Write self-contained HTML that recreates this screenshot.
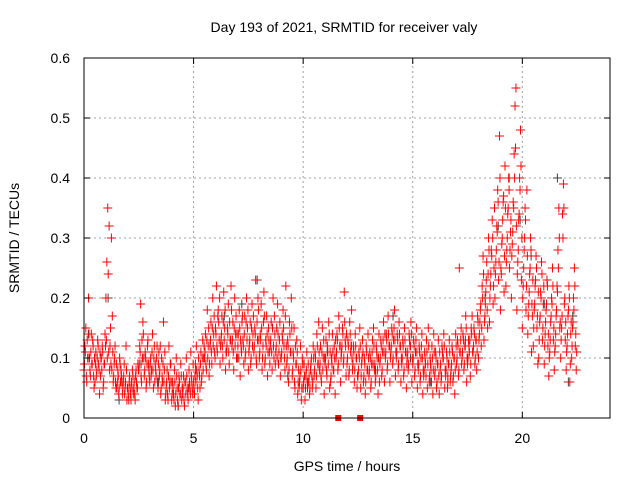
<!DOCTYPE html>
<html><head><meta charset="utf-8"><style>
html,body{margin:0;padding:0;background:#fff}
svg{display:block;font-family:"Liberation Sans",sans-serif}
</style></head><body>
<svg id="chart" width="640" height="480" viewBox="0 0 640 480">
<rect x="0" y="0" width="640" height="480" fill="#fff"/>
<g id="grid"></g>
<g id="gray"></g>
<g id="red"></g>
<rect x="84" y="58" width="526" height="360" fill="none" stroke="#000" stroke-width="1"/>
<g id="ticks"></g>
<text x="344" y="32" font-size="14" text-anchor="middle" fill="#000">Day 193 of 2021, SRMTID for receiver valy</text>
<text x="347" y="471" font-size="14" text-anchor="middle" fill="#000">GPS time / hours</text>
<text x="0" y="0" font-size="14" text-anchor="middle" fill="#000" transform="translate(19,238) rotate(-90)">SRMTID / TECUs</text>
</svg>
<script>
const xTicks=[0,5,10,15,20];
const yTicks=[0,0.1,0.2,0.3,0.4,0.5,0.6];
const yTickLabels=["0","0.1","0.2","0.3","0.4","0.5","0.6"];
const binStart=0, binStep=0.25;
const redVals=[
[8,12,15,6,10,20],[10,7,14,9,12,5],[6,11,8,13,9,4],[7,10,12,5,9,14],[20,26,35,11,8,15],
[30,17,6,9,12,5],[5,8,4,10,6,7],[4,6,9,5,12,3],[5,3,7,4,6,8],[4,6,3,8,5,9],
[8,12,19,6,10,14],[7,11,5,9,13,8],[6,10,8,14,5,12],[9,7,12,5,11,8],[4,10,6,16,8,3],
[5,8,3,12,6,9],[3,6,4,8,2,10],[5,2,7,4,9,3],[4,7,2,6,10,5],[3,8,5,11,6,4],
[6,4,9,12,7,3],[8,5,11,7,13,10],[10,14,8,18,12,7],[12,16,9,20,14,11],[15,22,11,18,13,9],
[13,17,10,21,15,8],[11,15,19,9,13,22],[12,16,8,20,14,10],[10,14,18,7,12,16],[13,9,17,11,20,15],
[8,12,16,10,19,14],[11,15,23,9,13,18],[10,14,19,8,12,21],[9,13,17,7,15,11],[12,16,8,20,10,14],
[11,15,19,9,13,7],[10,14,18,12,8,22],[9,13,6,16,11,20],[7,11,15,5,9,13],[4,8,6,12,3,10],
[5,9,3,7,11,6],[6,4,8,10,5,12],[7,11,5,14,9,16],[8,12,6,15,10,4],[9,13,7,11,16,5],
[6,10,14,8,12,4],[10,14,8,17,12,6],[11,15,9,21,13,7],[9,13,7,16,11,18],[8,12,6,14,10,5],
[7,11,15,5,9,13],[6,10,4,12,8,14],[7,11,5,9,13,15],[8,6,12,10,4,14],[9,13,7,11,16,6],
[10,14,8,17,12,6],[11,15,9,13,18,7],[10,14,8,16,12,6],[9,13,7,15,11,5],[10,8,14,12,16,6],
[9,13,7,11,15,5],[8,12,6,10,14,4],[7,11,9,13,5,15],[6,10,8,12,4,14],[7,11,5,9,13,4],
[8,6,12,10,14,5],[7,11,5,9,13,6],[8,12,6,10,4,14],[9,13,7,25,11,15],[10,14,8,12,17,6],
[9,13,11,7,15,17],[11,15,9,13,8,17],[10,14,18,12,22,27],[13,17,21,26,15,30],[16,22,28,33,19,25],
[20,26,32,38,23,47],[18,24,30,36,21,42],[22,28,34,40,25,31],[20,29,36,44,52,55],[18,26,33,40,48,23],
[15,22,28,35,18,38],[14,19,24,30,11,17],[12,18,22,27,15,9],[10,16,21,26,13,19],[9,14,18,23,12,7],
[11,16,20,25,13,8],[12,17,22,28,35,15],[10,15,34,39,19,13],[8,12,17,22,6,14],[10,15,20,25,12,8]
];
const redVals2=[
[9,11,7,13,10,14],[8,11,9,13,7,10],[9,7,10,12,8,11],[10,8,11,6,9,12],[13,10,24,32,12,9],
[8,11,7,10,6,9],[6,7,5,9,8,6],[5,7,4,6,8,5],[4,6,5,3,5,7],[5,4,7,6,5,8],
[9,11,7,13,16,10],[8,10,6,12,9,7],[9,7,11,8,10,6],[8,10,6,9,7,12],[5,7,9,6,11,4],
[6,4,7,5,9,6],[4,5,3,6,4,7],[3,5,6,4,7,5],[5,3,6,4,7,4],[5,6,4,7,5,9],
[5,7,6,8,5,10],[7,9,6,10,8,12],[11,9,13,10,15,9],[13,11,15,12,17,10],[14,12,17,16,20,12],
[14,12,16,13,18,11],[12,14,11,16,13,18],[13,11,15,12,17,14],[12,10,15,13,11,17],[12,14,10,16,13,18],
[11,13,9,15,12,17],[12,14,10,16,20,13],[11,13,15,10,16,17],[10,12,14,11,13,9],[13,11,15,12,17,9],
[12,10,14,11,16,10],[11,13,15,10,17,12],[10,12,8,14,11,15],[8,10,6,12,9,11],[6,5,7,8,5,9],
[6,7,5,8,6,9],[7,5,9,7,6,10],[8,10,7,12,9,11],[9,7,11,8,13,10],[10,8,12,9,14,11],
[7,9,11,8,10,13],[11,13,9,15,12,10],[12,14,10,16,12,14],[10,12,8,14,12,10],[9,11,8,12,10,7],
[8,10,12,7,10,11],[7,9,6,11,8,10],[8,10,6,11,9,12],[9,7,11,8,10,6],[10,12,8,13,11,14],
[11,13,9,14,12,10],[12,14,10,15,13,11],[11,13,9,14,12,10],[10,12,8,13,11,9],[11,9,13,12,14,10],
[10,12,8,13,11,9],[9,11,7,12,10,8],[8,10,7,11,9,12],[7,9,6,10,8,11],[8,10,6,9,7,11],
[9,7,11,10,12,8],[8,10,6,9,11,7],[9,11,7,10,8,12],[10,12,8,11,13,9],[11,13,9,12,15,10],
[10,12,13,9,14,11],[12,14,10,13,11,16],[13,16,19,15,20,24],[16,19,23,18,24,28],[20,24,27,30,22,35],
[24,28,31,36,26,40],[25,29,33,37,27,35],[26,30,35,38,28,33],[27,31,35,40,45,32],[24,28,34,38,42,30],
[20,25,30,33,22,27],[17,21,25,28,19,23],[15,19,23,25,17,21],[13,17,20,24,15,22],[12,16,19,22,14,10],
[13,17,19,22,15,11],[14,18,21,25,30,16],[13,17,30,35,20,16],[11,14,18,20,9,16],[12,16,18,22,14,11]
];
const grayTimes=[0.2,1.1,1.6,2.6,3.4,4.3,5.1,6.4,7.2,7.9,8.6,9.3,10.2,11.1,12.2,13.3,14.1,14.9,15.8,16.6,17.4,18.3,18.9,19.4,19.9,20.4,21.0,21.6,22.1,22.3];
const grayVals=[0.14,0.2,0.03,0.09,0.06,0.02,0.08,0.17,0.19,0.23,0.15,0.07,0.05,0.11,0.12,0.08,0.17,0.1,0.06,0.07,0.13,0.2,0.32,0.4,0.33,0.27,0.19,0.4,0.06,0.17];
const squareTimes=[11.6,12.6];
const squareVals=[0,0];

const X0=84,X1=610,Y0=418,Y1=58,XMAX=24,YMAX=0.6;
const sx=t=>X0+(X1-X0)*t/XMAX;
const sy=v=>Y0-(Y0-Y1)*v/YMAX;
const NS="http://www.w3.org/2000/svg";
function mk(tag,attrs,parent){const e=document.createElementNS(NS,tag);for(const k in attrs)e.setAttribute(k,attrs[k]);parent.appendChild(e);return e;}
const grid=document.getElementById('grid'),ticks=document.getElementById('ticks');
xTicks.forEach((t,i)=>{
  const x=sx(t);
  if(t>0){const g=mk('line',{x1:x,y1:Y0,x2:x,y2:Y1,stroke:'#a0a0a0','stroke-dasharray':'2,3'},grid);
  
  }
  const a=mk('line',{x1:x,y1:Y0,x2:x,y2:Y0-6,stroke:'#000'},ticks);
  
  
  const b=mk('line',{x1:x,y1:Y1,x2:x,y2:Y1+6,stroke:'#000'},ticks);
  
  
  const l=mk('text',{x:x,y:443,'font-size':14,'text-anchor':'middle',fill:'#000'},ticks);
  l.textContent=String(t);
  
  
});
yTicks.forEach((v,i)=>{
  const y=sy(v);
  if(v>0&&v<YMAX){const g=mk('line',{x1:X0,y1:y,x2:X1,y2:y,stroke:'#a0a0a0','stroke-dasharray':'2,3'},grid);
  
  }
  const a=mk('line',{x1:X0,y1:y,x2:X0+6,y2:y,stroke:'#000'},ticks);
  
  
  const b=mk('line',{x1:X1,y1:y,x2:X1-6,y2:y,stroke:'#000'},ticks);
  
  
  const l=mk('text',{x:70,y:y+5,'font-size':14,'text-anchor':'end',fill:'#000'},ticks);
  l.textContent=yTickLabels[i];
  
  
});
function plus(parent,t,v,color,name){
  const x=sx(t),y=sy(v);
  const p=mk('path',{d:`M${x-4.5},${y}H${x+4.5}M${x},${y-4.5}V${y+4.5}`,stroke:color,'stroke-width':1,fill:'none'},parent);
  
  
}
const gray=document.getElementById('gray'),red=document.getElementById('red');
grayTimes.forEach((t,i)=>plus(gray,t,grayVals[i],'#404040','gray-point'));
redVals.forEach((row,i)=>{
  const t0=binStart+i*binStep;
  row.forEach((v,j)=>plus(red,t0+binStep*j/row.length,v/100,'#ff0000','red-point'));
});
redVals2.forEach((row,i)=>{
  const t0=binStart+i*binStep+binStep/12;
  row.forEach((v,j)=>plus(red,t0+binStep*j/row.length,v/100,'#ff0000','red-point'));
});
squareTimes.forEach((t,i)=>{
  const s=mk('rect',{x:sx(t)-3,y:sy(squareVals[i])-3,width:6,height:6,fill:'#ff0000'},red);
  
  
});
</script>
</body></html>
